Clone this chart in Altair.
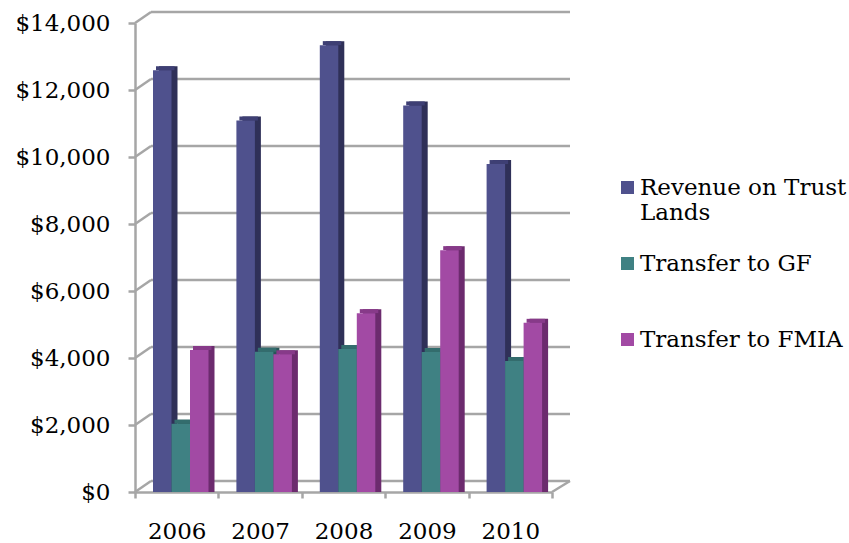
import altair as alt
import pandas as pd

# ---- data -----------------------------------------------------------------
years = ["2006", "2007", "2008", "2009", "2010"]
series = ["Revenue on Trust Lands", "Transfer to GF", "Transfer to FMIA"]
revenue = [12500, 11000, 13250, 11450, 9700]
transfer_gf = [1950, 4100, 4180, 4090, 3820]
transfer_fmia = [4150, 4020, 5250, 7130, 4960]
y_ticks = [0, 2000, 4000, 6000, 8000, 10000, 12000, 14000]

# ---- styling --------------------------------------------------------------
front_colors = ["#4F518D", "#3F8183", "#A24AA4"]
side_colors = ["#2F3058", "#285657", "#6C2B6E"]
top_colors = ["#3E3F74", "#336C6D", "#873A89"]
FONT = "DejaVu Serif"
GRAY = "#A6A6A6"
LINE_W = 2.5
DX, DY = 16, 11          # depth of the walls / floor in pixels
PLOT_W, PLOT_H = 417, 469
CLUSTER_START, CLUSTER_W = 18, 55.5   # bar cluster inside each year band
BAR_DX, BAR_DY = 6, 4    # depth of each bar

rows = []
for name, vals in zip(series, [revenue, transfer_gf, transfer_fmia]):
    for yr, v in zip(years, vals):
        rows.append({"year": yr, "series": name, "value": v})
bars = pd.DataFrame(rows)
grid = pd.DataFrame({"tick": y_ticks})

y_scale = alt.Scale(domain=[0, 14000], nice=False, zero=True)

x_enc = alt.X(
    "year:N",
    sort=years,
    scale=alt.Scale(paddingInner=0, paddingOuter=0),
    axis=alt.Axis(
        title=None,
        domainColor=GRAY,
        domainWidth=LINE_W,
        tickColor=GRAY,
        tickWidth=LINE_W,
        tickSize=6,
        tickBand="extent",
        labelFont=FONT,
        labelFontSize=23,
        labelColor="black",
        labelPadding=22,
        labelAngle=0,
    ),
)


def xoff_enc(shift):
    """Series offset inside a year band, moved right by `shift` pixels."""
    return alt.XOffset(
        "series:N",
        sort=series,
        scale=alt.Scale(
            domain=series,
            paddingInner=0,
            paddingOuter=0,
            range=[CLUSTER_START + shift, CLUSTER_START + CLUSTER_W + shift],
        ),
    )


# back wall gridlines
back_wall = (
    alt.Chart(grid)
    .mark_rule(color=GRAY, strokeWidth=LINE_W, yOffset=-DY, y2Offset=-DY)
    .encode(
        y=alt.Y(
            "tick:Q",
            scale=y_scale,
            axis=alt.Axis(
                title=None,
                values=y_ticks,
                format="$,.0f",
                grid=False,
                domainColor=GRAY,
                domainWidth=LINE_W,
                tickColor=GRAY,
                tickWidth=LINE_W,
                tickSize=7,
                labelFont=FONT,
                labelFontSize=23,
                labelColor="black",
                labelPadding=18,
            ),
        ),
        x=alt.value(DX),
        x2=alt.value(PLOT_W + DX + 2),
    )
)

# side wall diagonals joining the front axis ticks to the back wall
side_wall = (
    alt.Chart(grid)
    .mark_rule(color=GRAY, strokeWidth=LINE_W, y2Offset=-DY)
    .encode(
        y=alt.Y("tick:Q", scale=y_scale),
        y2=alt.Y2("tick:Q"),
        x=alt.value(0),
        x2=alt.value(DX),
    )
)

# right edge of the floor
floor_edge = (
    alt.Chart(grid)
    .transform_filter(alt.datum.tick == 0)
    .mark_rule(color=GRAY, strokeWidth=LINE_W, y2Offset=-DY)
    .encode(
        y=alt.Y("tick:Q", scale=y_scale),
        y2=alt.Y2("tick:Q"),
        x=alt.value(PLOT_W),
        x2=alt.value(PLOT_W + DX + 2),
    )
)

base = alt.Chart(bars)

# shaded right side of each column (drawn behind the front faces)
bar_sides = base.mark_bar(yOffset=-3 - BAR_DY, y2Offset=-3 - BAR_DY).encode(
    x=x_enc,
    xOffset=xoff_enc(BAR_DX),
    y=alt.Y("value:Q", scale=y_scale, stack=None),
    color=alt.Color("series:N", scale=alt.Scale(domain=series, range=side_colors), legend=None),
)

# top face of each column
bar_tops = base.mark_bar(yOffset=-3 - BAR_DY, y2Offset=-3).encode(
    x=x_enc,
    xOffset=xoff_enc(BAR_DX / 2),
    y=alt.Y("value:Q", scale=y_scale, stack=None),
    y2=alt.Y2("value:Q"),
    color=alt.Color("series:N", scale=alt.Scale(domain=series, range=top_colors), legend=None),
)

# front faces
bar_fronts = base.mark_bar(yOffset=-3, y2Offset=-3).encode(
    x=x_enc,
    xOffset=xoff_enc(0),
    y=alt.Y("value:Q", scale=y_scale, stack=None),
    color=alt.Color(
        "series:N",
        scale=alt.Scale(domain=series, range=front_colors),
        legend=alt.Legend(
            title=None,
            orient="none",
            legendX=481,
            legendY=153,
            symbolType="square",
            symbolSize=169,
            symbolStrokeWidth=0,
            symbolOpacity=1,
            labelFont=FONT,
            labelFontSize=23,
            labelColor="black",
            labelOffset=1,
            labelLimit=400,
            rowPadding=27,
            labelExpr="datum.label == 'Revenue on Trust Lands' ? ['Revenue on Trust', 'Lands'] : [datum.label, '']",
        ),
    ),
)

chart = (
    alt.layer(back_wall, side_wall, floor_edge, bar_sides, bar_tops, bar_fronts)
    .resolve_scale(color="independent", xOffset="independent")
    .properties(
        width=PLOT_W,
        height=PLOT_H,
        autosize=alt.AutoSizeParams(type="none"),
        padding={"left": 135, "top": 23, "right": 849 - 135 - PLOT_W, "bottom": 543 - 23 - PLOT_H},
        background="white",
    )
    .configure_view(stroke=None)
)

chart.save("out.html", embed_options={"renderer": "svg", "actions": False})
